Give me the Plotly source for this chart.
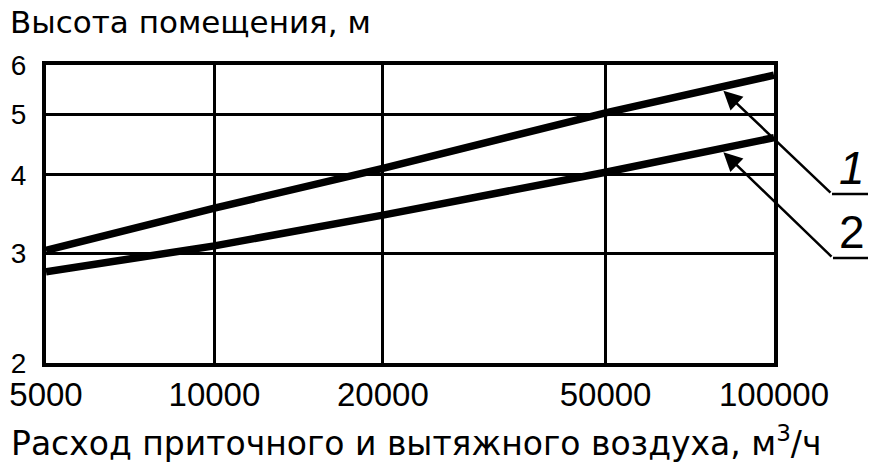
import math
import plotly.graph_objects as go

# ---- data ----
flow = [5000, 10000, 20000, 50000, 100000]          # m3/h
height_1 = [3.03, 3.54, 4.10, 5.03, 5.78]            # curve 1
height_2 = [2.80, 3.08, 3.45, 4.04, 4.59]            # curve 2
x_ticks = [5000, 10000, 20000, 50000, 100000]
x_ticklabels = ["5000", "10000", "20000", "50000", "100000"]
y_ticks = [2, 3, 4, 5, 6]
y_ticklabels = ["2", "3", "4", "5", "6"]

# page pixel geometry of the reference; the html body adds an 8px margin
OFF = 8
W, H = 876 - OFF, 465 - OFF
PL, PR, PT, PB = 46, 774, 65, 363           # plot box in page pixels
ML, MT = PL - OFF, PT - OFF
PW, PH = PR - PL, PB - PT
MR, MB = W - ML - PW, H - MT - PH
XR = [math.log10(5000), math.log10(100000)]
YR = [math.log10(2), math.log10(6)]
FONT = "Liberation Sans, Arial, sans-serif"
WIDE = "DejaVu Sans, Liberation Sans, sans-serif"


def interp_log(xs, ys, xv):
    lx = [math.log10(v) for v in xs]
    ly = [math.log10(v) for v in ys]
    t = math.log10(xv)
    for i in range(len(lx) - 1):
        if lx[i] <= t <= lx[i + 1]:
            f = (t - lx[i]) / (lx[i + 1] - lx[i])
            return 10 ** (ly[i] + f * (ly[i + 1] - ly[i]))
    return ys[-1]


def to_page_px(xv, yv):
    px = PL + (math.log10(xv) - XR[0]) / (XR[1] - XR[0]) * PW
    py = PB - (math.log10(yv) - YR[0]) / (YR[1] - YR[0]) * PH
    return px, py


def px_to_paper(px, py):
    return (px - PL) / PW, (PB - py) / PH


fig = go.Figure()
for ys in (height_1, height_2):
    fig.add_trace(go.Scatter(x=flow, y=ys, mode="lines",
                             line=dict(color="black", width=7.5),
                             showlegend=False, hoverinfo="skip"))

fig.update_xaxes(type="log", range=XR, tickvals=x_ticks, ticktext=x_ticklabels,
                 showgrid=True, gridcolor="black", gridwidth=3,
                 showline=True, linecolor="black", linewidth=4, mirror=True,
                 ticks="", ticklabelstandoff=-1,
                 tickfont=dict(family=FONT, size=33, color="black"),
                 zeroline=False, automargin=False)
fig.update_yaxes(type="log", range=YR, tickvals=y_ticks, ticktext=y_ticklabels,
                 showgrid=True, gridcolor="black", gridwidth=3,
                 showline=True, linecolor="black", linewidth=4, mirror=True,
                 ticks="outside", ticklen=10, tickcolor="rgba(0,0,0,0)",
                 tickfont=dict(family=FONT, size=28, color="black"),
                 zeroline=False, automargin=False)

tx, ty = px_to_paper(OFF, 22)
ax_, ay_ = px_to_paper(9, 441)
annotations = [
    dict(text="Высота помещения, м", xref="paper", yref="paper",
         x=tx, y=ty, xanchor="left", yanchor="middle",
         showarrow=False, font=dict(family=WIDE, size=31, color="black")),
    dict(text="Расход приточного и вытяжного воздуха, м<sup>3</sup>/ч",
         xref="paper", yref="paper",
         x=ax_, y=ay_, xanchor="left", yanchor="middle",
         showarrow=False, font=dict(family=WIDE, size=33, color="black")),
]

# leader lines with arrows to curves 1 and 2
labels = [("<i>1</i>", height_1, 80000, (832, 194), (852, 168)),
          ("2", height_2, 80000, (833, 258), (852, 232))]
shapes = []
for txt, ys, xv, tail, lab in labels:
    yv = interp_log(flow, ys, xv)
    tpx, tpy = to_page_px(xv, yv)
    annotations.append(dict(x=math.log10(xv), y=math.log10(yv), xref="x", yref="y",
                            text="", showarrow=True, arrowhead=2, arrowsize=1.5,
                            arrowwidth=2.5, arrowcolor="black", standoff=5,
                            ax=tail[0] - tpx, ay=tail[1] - tpy))
    x0, y0 = px_to_paper(tail[0], tail[1])
    x1, _ = px_to_paper(875, tail[1])
    shapes.append(dict(type="line", xref="paper", yref="paper",
                       x0=x0, x1=x1, y0=y0, y1=y0,
                       line=dict(color="black", width=2.5)))
    lx, ly = px_to_paper(*lab)
    annotations.append(dict(text=txt, xref="paper", yref="paper",
                            x=lx, y=ly, xanchor="center", yanchor="middle",
                            showarrow=False,
                            font=dict(family=FONT, size=46, color="black")))

fig.update_layout(width=W, height=H, margin=dict(l=ML, r=MR, t=MT, b=MB),
                  paper_bgcolor="white", plot_bgcolor="white",
                  annotations=annotations, shapes=shapes, showlegend=False)

fig.write_html("out.html")
